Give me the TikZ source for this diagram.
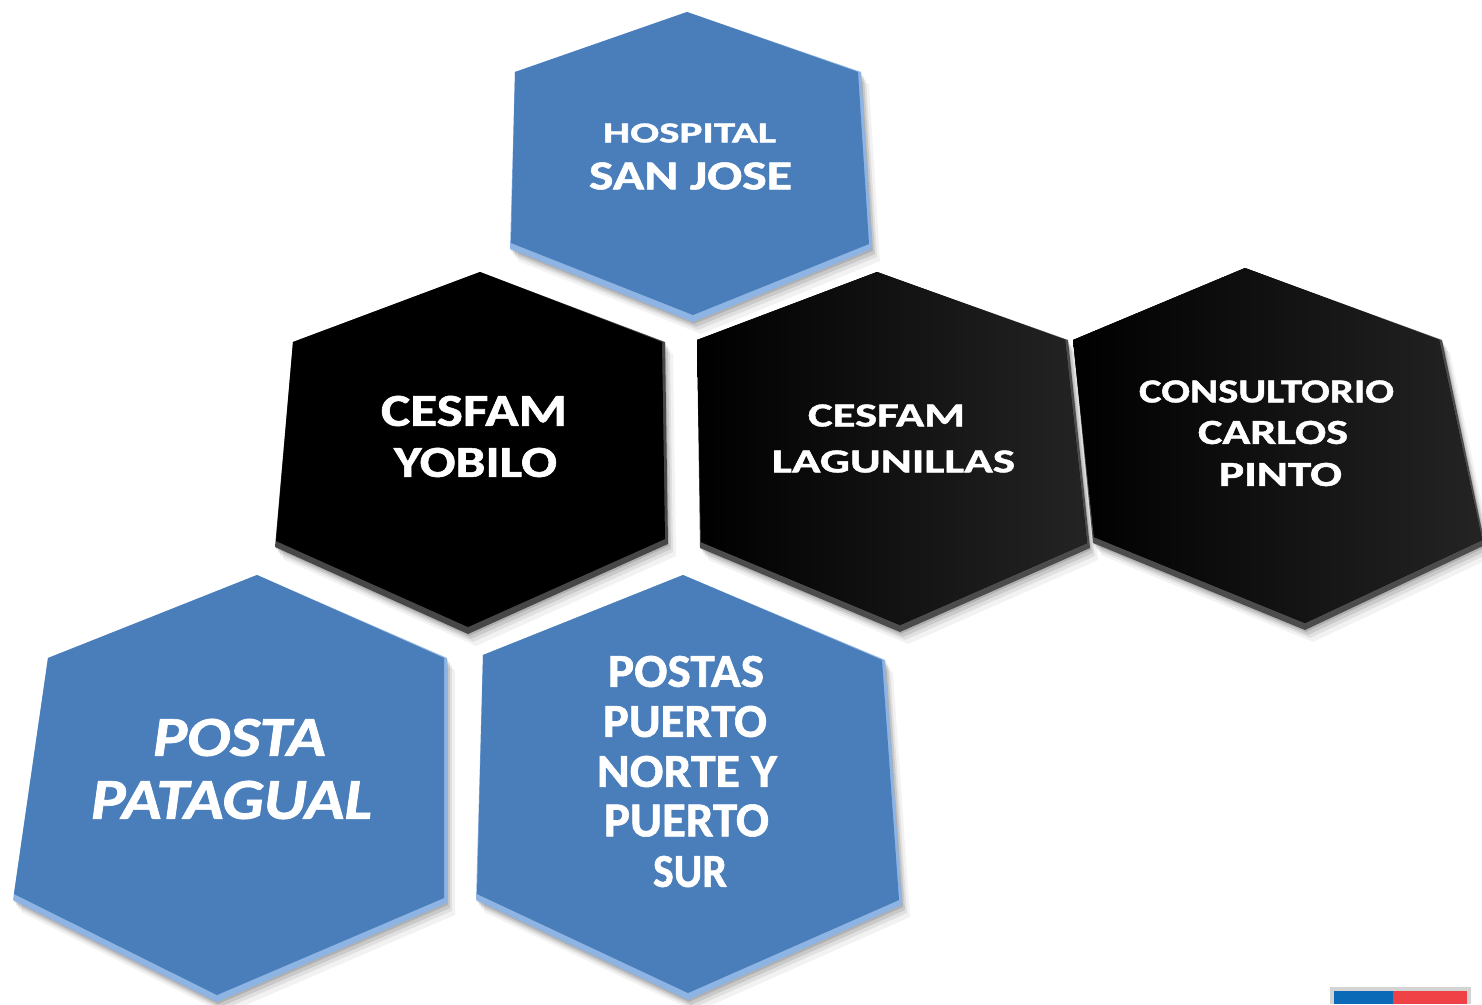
\documentclass[tikz,border=0pt]{standalone}
\usepackage{fontspec}
\setmainfont{Carlito}[BoldFeatures={FakeBold=1.2},BoldItalicFeatures={FakeBold=1.2}]
\usetikzlibrary{calc}
\definecolor{hexblue}{RGB}{74,126,187}
\definecolor{bevblue}{RGB}{141,180,226}
\definecolor{bevdark}{RGB}{58,98,156}
\definecolor{flagblue}{RGB}{10,106,183}
\definecolor{flagred}{RGB}{239,65,70}
\tikzset{
  txt/.style={inner sep=0pt, text=white, font=\bfseries},
  bluefill/.style={fill=hexblue},
  darkfill/.style={left color=black, right color=black!86!white},
  blackfill/.style={fill=black},
}
% #1 face style, #2 bevel colour, #3..#8 vertices: top, UR, LR, bottom, LL, UL
\newcommand\hexa[8]{%
  \foreach \dx/\dy/\op in {8/12/0.05, 5/8/0.07, 3/5/0.10, 1/2/0.12}{
    \fill[black, opacity=\op, shift={(\dx,\dy)}] (#3)--(#4)--(#5)--(#6)--(#7)--(#8)--cycle;}
  \fill[#2] (#3)--(#4)--(#5)--(#6)--(#7)--(#8)--cycle;
  \fill[#1] (#3)--($(#4)+(-3,0)$)--($(#5)+(-3,-5)$)--($(#6)+(0,-7)$)--($(#7)+(1,-6)$)--(#8)--cycle;
}
\newcommand\hexline[6]{\node[txt] (#1) at (#2,#3) {\resizebox{#4pt}{#5pt}{#6}};}
\begin{document}
\begin{tikzpicture}[x=1pt,y=-1pt]
\useasboundingbox (0,0) rectangle (1482,1004);
\fill[white] (0,0) rectangle (1482,1004);
% hexagons
\hexa{bluefill}{bevblue}{687,12}{861,72}{872,249}{693,322}{510,249}{515,72}
\hexa{blackfill}{black!72!white}{480,272}{665,342}{668,544}{468,634}{275,547}{293,342}
\hexa{darkfill}{black!70!white}{877,272}{1068,340}{1090,548}{900,632}{700,548}{697,340}
\hexa{darkfill}{black!70!white}{1245,268}{1442,340}{1485,545}{1305,630}{1093,543}{1073,340}
\hexa{bluefill}{bevblue}{257,575}{447,658}{447,903}{217,1002}{13,900}{48,658}
\hexa{bluefill}{bevblue}{683,575}{885,660}{902,905}{688,1000}{476,900}{483,655}
% flag
\foreach \o in {0.04,0.06,0.08}{
  \fill[black, opacity=\o] (1330,987) rectangle (1471,1004);}
\fill[flagblue] (1334,991) rectangle (1393,1004);
\fill[flagred] (1393,991) rectangle (1467,1004);
% texts
\hexline{h1}{689.5}{133}{173}{19}{HOSPITAL}
\hexline{h2}{690.5}{176}{203}{27}{SAN JOSE}
\hexline{y1}{474}{411}{186}{30}{CESFAM}
\hexline{y2}{475.5}{462.5}{163}{29}{YOBILO}
\hexline{l1}{886.5}{415.5}{157}{22}{CESFAM}
\hexline{l2}{893.5}{461.5}{243}{22}{LAGUNILLAS}
\hexline{c1}{1266.5}{391.5}{255}{22}{CONSULTORIO}
\hexline{c2}{1273}{432.5}{150}{23}{CARLOS}
\hexline{c3}{1280.5}{474.5}{123}{23}{PINTO}
\hexline{p1}{239.5}{737.5}{173}{37}{\itshape POSTA}
\hexline{p2}{231.5}{800}{281}{38}{\itshape PATAGUAL}
\hexline{s1}{686}{671.5}{156}{31}{POSTAS}
\hexline{s2}{685}{721.5}{164}{31}{PUERTO}
\hexline{s3}{687}{771.5}{180}{31}{NORTE Y}
\hexline{s4}{686.5}{820.5}{165}{32}{PUERTO}
\hexline{s5}{690}{871.5}{74}{31}{SUR}
\end{tikzpicture}
\end{document}
